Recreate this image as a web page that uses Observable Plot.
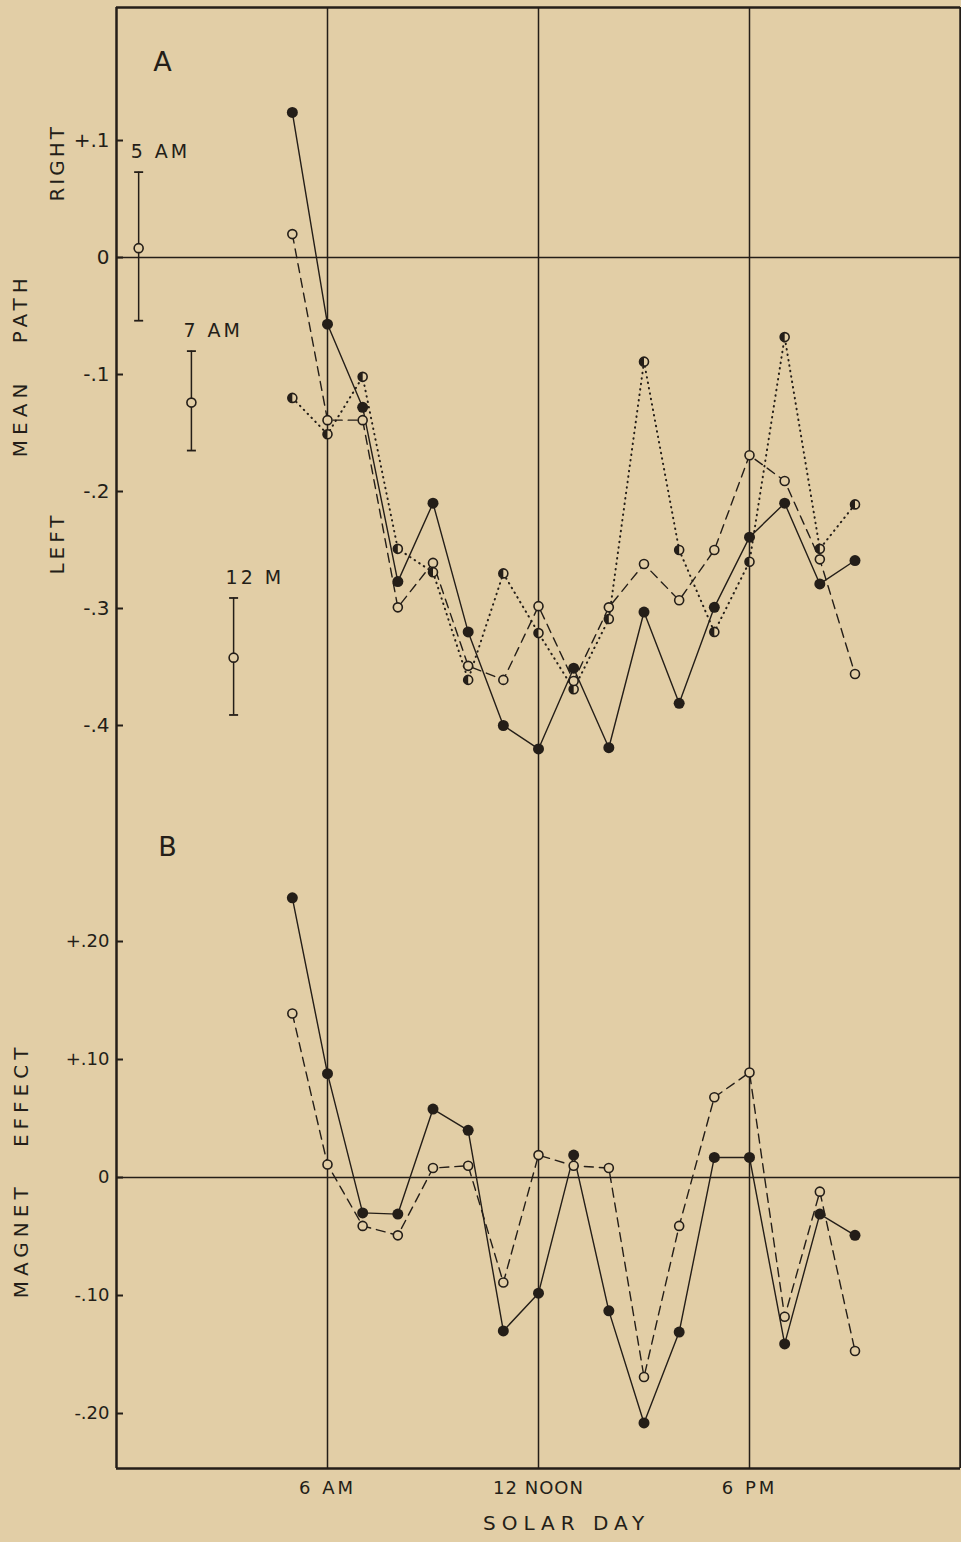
<!DOCTYPE html>
<html><head><meta charset="utf-8">
<script src="https://cdn.jsdelivr.net/npm/d3@7"></script>
<script src="https://cdn.jsdelivr.net/npm/@observablehq/plot@0.6"></script>
<style>
html,body{margin:0;padding:0;background:#e2cea6;}
#chart svg{display:block;}
</style></head><body><div id="chart"></div>
<script>
// ---------- data ----------
const hours = [5,6,7,8,9,10,11,12,13,14,15,16,17,18,19,20,21];
// Panel A: mean path (right +, left -)
const pathSolid  = [0.124,-0.057,-0.128,-0.277,-0.210,-0.320,-0.400,-0.420,-0.351,-0.419,-0.303,-0.381,-0.299,-0.239,-0.210,-0.279,-0.259];
const pathDashed = [0.020,-0.139,-0.139,-0.299,-0.261,-0.349,-0.361,-0.298,-0.362,-0.299,-0.262,-0.293,-0.250,-0.169,-0.191,-0.258,-0.356];
const pathDotted = [-0.120,-0.151,-0.102,-0.249,-0.269,-0.361,-0.270,-0.321,-0.369,-0.309,-0.089,-0.250,-0.320,-0.260,-0.068,-0.249,-0.211];
// Panel A reference error bars
const barLabels = ["5 AM","7 AM","12 M"];
const barX      = [0.63, 2.13, 3.33];
const barMean   = [0.008,-0.124,-0.342];
const barLow    = [-0.054,-0.165,-0.391];
const barHigh   = [0.073,-0.080,-0.291];
// Panel B: magnet effect
const effectSolid  = [0.237,0.088,-0.030,-0.031,0.058,0.040,-0.130,-0.098,0.019,-0.113,-0.208,-0.131,0.017,0.017,-0.141,-0.031,-0.049];
const effectDashed = [0.139,0.011,-0.041,-0.049,0.008,0.010,-0.089,0.019,0.010,0.008,-0.169,-0.041,0.068,0.089,-0.118,-0.012,-0.147];
// tick labels
const yTicksA = [0.1,0,-0.1,-0.2,-0.3,-0.4];
const yTickLabelsA = ["+.1","0","-.1","-.2","-.3","-.4"];
const yTicksB = [0.2,0.1,0,-0.1,-0.2];
const yTickLabelsB = ["+.20","+.10","0","-.10","-.20"];
const xTicks = [6,12,18];
const xTickLabels = ["6 AM","12 NOON","6 PM"];
const dividers = [6,12,18];

// ---------- styling ----------
const ink = "#241e18", bg = "#e2cea6";
const font = "DejaVu Sans";
const W = 961, ML = 116, MR = 1;

const rowsOf = (vals) => hours.map((h,i)=>({x:h, y:vals[i]}));
const bars = barLabels.map((l,i)=>({label:l, x:barX[i], mean:barMean[i], lo:barLow[i], hi:barHigh[i]}));

const halfLeft = {draw(ctx, size){const r=Math.sqrt(size/Math.PI); ctx.moveTo(0,-r); ctx.arc(0,0,r,-Math.PI/2,Math.PI/2,true); ctx.closePath();}};
const hCap = {draw(ctx, size){const r=Math.sqrt(size/Math.PI); ctx.moveTo(-r,0); ctx.lineTo(r,0);}};

const fmt = (ticks, labels) => d => labels[ticks.findIndex(t=>Math.abs(t-d)<1e-9)];

// ---------- Panel A ----------
const HA = 800, MTA = 7;
const yTopA = 0.2137, yBotA = -0.4641;
const A = Plot.plot({
  width: W, height: HA, marginLeft: ML, marginRight: MR, marginTop: MTA, marginBottom: 0,
  style: {background: bg, color: ink, fontFamily: font, fontSize: "20px"},
  x: {domain: [0,24], axis: null},
  y: {domain: [yBotA, yTopA]},
  marks: [
    Plot.ruleX(dividers, {stroke: ink, strokeWidth: 1.5}),
    Plot.ruleY([0], {stroke: ink, strokeWidth: 1.5}),
    Plot.ruleX([0,24], {stroke: ink, strokeWidth: 2.5}),
    Plot.ruleY([yTopA], {stroke: ink, strokeWidth: 2.5}),
    Plot.axisY({ticks: yTicksA, tickFormat: fmt(yTicksA, yTickLabelsA), tickSize: -7, tickPadding: 14, strokeWidth: 2, label: null, fontSize: 20}),
    // error bars
    Plot.ruleX(bars, {x: "x", y1: "lo", y2: "hi", stroke: ink, strokeWidth: 1.5}),
    Plot.dot(bars, {x: "x", y: "lo", symbol: hCap, r: 4.5, stroke: ink, strokeWidth: 1.8, fill: "none"}),
    Plot.dot(bars, {x: "x", y: "hi", symbol: hCap, r: 4.5, stroke: ink, strokeWidth: 1.8, fill: "none"}),
    Plot.dot(bars, {x: "x", y: "mean", r: 4.5, stroke: ink, strokeWidth: 1.6, fill: bg}),
    Plot.text(bars, {x: "x", y: "hi", text: "label", textAnchor: "start", dx: -8, dy: -20, fontSize: 19, fill: ink}),
    // series
    Plot.line(rowsOf(pathDotted), {x: "x", y: "y", stroke: ink, strokeWidth: 2, strokeDasharray: "0.5,5", strokeLinecap: "round"}),
    Plot.line(rowsOf(pathDashed), {x: "x", y: "y", stroke: ink, strokeWidth: 1.4, strokeDasharray: "9,6"}),
    Plot.line(rowsOf(pathSolid), {x: "x", y: "y", stroke: ink, strokeWidth: 1.4}),
    Plot.dot(rowsOf(pathDotted), {x: "x", y: "y", r: 4.5, stroke: ink, strokeWidth: 1.6, fill: bg}),
    Plot.dot(rowsOf(pathDotted), {x: "x", y: "y", r: 4.5, symbol: halfLeft, fill: ink}),
    Plot.dot(rowsOf(pathDashed), {x: "x", y: "y", r: 4.5, stroke: ink, strokeWidth: 1.6, fill: bg}),
    Plot.dot(rowsOf(pathSolid), {x: "x", y: "y", r: 5.5, fill: ink}),
    // labels
    Plot.text(["A"], {x: 1.31, y: 0.167, fontSize: 27, fill: ink}),
    Plot.text(["RIGHT"], {frameAnchor: "left", y: 0.081, dx: -59, rotate: -90, textAnchor: "middle", lineAnchor: "middle", fontSize: 20, fill: ink}),
    Plot.text(["MEAN PATH"], {frameAnchor: "left", y: -0.092, dx: -96, rotate: -90, textAnchor: "middle", lineAnchor: "middle", fontSize: 20, fill: ink}),
    Plot.text(["LEFT"], {frameAnchor: "left", y: -0.244, dx: -59, rotate: -90, textAnchor: "middle", lineAnchor: "middle", fontSize: 20, fill: ink})
  ]
});

// ---------- Panel B ----------
const HB = 742, MBB = 74;
const yTopB = 0.3195, yBotB = -0.2466;
const B = Plot.plot({
  width: W, height: HB, marginLeft: ML, marginRight: MR, marginTop: 0, marginBottom: MBB,
  style: {background: bg, color: ink, fontFamily: font, fontSize: "18px"},
  x: {domain: [0,24]},
  y: {domain: [yBotB, yTopB]},
  marks: [
    Plot.ruleX(dividers, {stroke: ink, strokeWidth: 1.5}),
    Plot.ruleY([0], {stroke: ink, strokeWidth: 1.5}),
    Plot.ruleX([0,24], {stroke: ink, strokeWidth: 2.5}),
    Plot.ruleY([yBotB], {stroke: ink, strokeWidth: 2.5}),
    Plot.axisY({ticks: yTicksB, tickFormat: fmt(yTicksB, yTickLabelsB), tickSize: -7, tickPadding: 14, strokeWidth: 2, label: null, fontSize: 18}),
    Plot.axisX({ticks: xTicks, tickFormat: fmt(xTicks, xTickLabels), tickSize: 0, tickPadding: 13, label: null, fontSize: 18}),
    Plot.line(rowsOf(effectDashed), {x: "x", y: "y", stroke: ink, strokeWidth: 1.4, strokeDasharray: "9,6"}),
    Plot.line(rowsOf(effectSolid), {x: "x", y: "y", stroke: ink, strokeWidth: 1.4}),
    Plot.dot(rowsOf(effectDashed), {x: "x", y: "y", r: 4.5, stroke: ink, strokeWidth: 1.6, fill: bg}),
    Plot.dot(rowsOf(effectSolid), {x: "x", y: "y", r: 5.5, fill: ink}),
    Plot.text(["B"], {x: 1.45, y: 0.280, fontSize: 27, fill: ink}),
    Plot.text(["MAGNET EFFECT"], {frameAnchor: "left", y: 0.006, dx: -95, rotate: -90, textAnchor: "middle", lineAnchor: "middle", fontSize: 20, fill: ink}),
    Plot.text(["SOLAR DAY"], {x: 12.8, frameAnchor: "bottom", dy: 61, fontSize: 20, fill: ink})
  ]
});

// letter spacing for the hand-lettered labels
const spacing = {"RIGHT":3,"LEFT":4,"MEAN PATH":5,"MAGNET EFFECT":5,"SOLAR DAY":6,"5 AM":3,"7 AM":3,"12 M":3,"6 AM":3,"6 PM":3,"12 NOON":1};
const wordSpacing = {"MEAN PATH":24,"MAGNET EFFECT":24};
for (const svg of [A,B]) {
  d3.select(svg).selectAll("text").each(function(){
    const t = this.textContent;
    if (spacing[t] != null) this.style.letterSpacing = spacing[t] + "px";
    if (wordSpacing[t] != null) this.style.wordSpacing = wordSpacing[t] + "px";
  });
}
document.getElementById("chart").append(A, B);
</script>
</body></html>
